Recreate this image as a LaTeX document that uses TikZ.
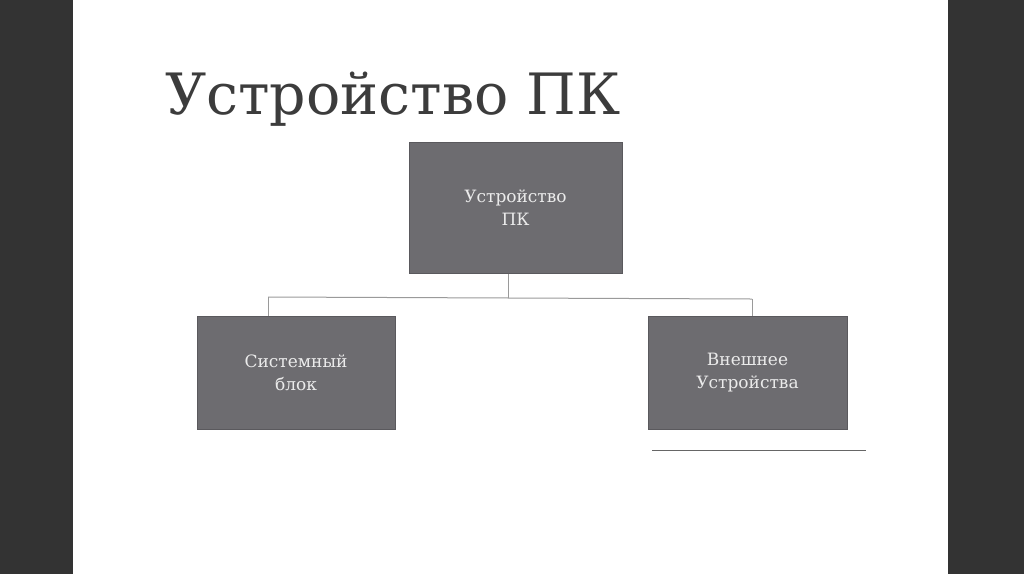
\documentclass[tikz,border=0pt]{standalone}
\usepackage{fontspec}
\setmainfont{DejaVu Serif}
\definecolor{sidebar}{HTML}{333333}
\definecolor{boxfill}{HTML}{6D6C70}
\definecolor{boxline}{HTML}{5A595D}
\definecolor{titlecol}{HTML}{3C3C3C}
\definecolor{conn}{HTML}{9A9A9A}
\begin{document}
\begin{tikzpicture}[x=1pt,y=-1pt,
  box/.style={draw=boxline, line width=1pt, fill=boxfill, text=white!92!black, align=center, font=\fontsize{17}{23}\selectfont, inner sep=0pt},
  connector/.style={draw=conn, line width=1pt}]
\useasboundingbox (0,0) rectangle (1024,574);
\fill[sidebar] (0,0) rectangle (1024,574);
\fill[white] (73,0) rectangle (948,574);
\node[anchor=base west, text=titlecol, font=\fontsize{57}{62}\selectfont, inner sep=0pt] (title) at (165,114) {Устройство ПК};
\node[box, minimum width=213pt, minimum height=131pt] (top) at (515.5,207.5) {Устройство\\ПК};
\node[box, minimum width=198pt, minimum height=113pt] (left) at (296,372.5) {Системный\\блок};
\node[box, minimum width=199pt, minimum height=113pt] (right) at (747.5,372.5) {Внешнее\\Устройства};
\coordinate (j) at (508,297.5);
\coordinate (jl) at (268,297);
\coordinate (jr) at (752,299);
\draw[connector] (top.south -| j) -- (j);
\draw[connector] (jl) -- (jr);
\draw[connector] (jl) -- (left.north -| jl);
\draw[connector] (jr) -- (right.north -| jr);
\coordinate (ul) at (652,450);
\coordinate (ur) at (866,450);
\draw[draw=black!60, line width=1pt] (ul) -- (ur);
\end{tikzpicture}
\end{document}
